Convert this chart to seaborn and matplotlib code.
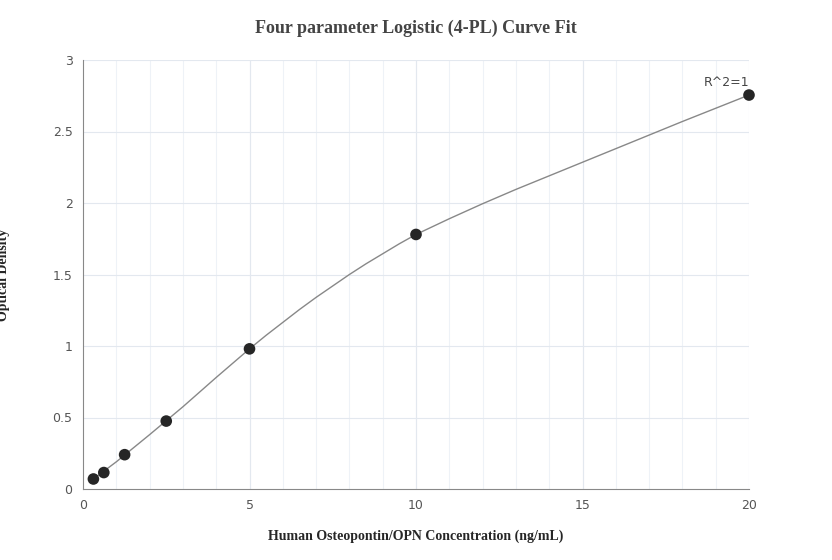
import numpy as np
import matplotlib.pyplot as plt
import seaborn as sns

# standard points
conc = [0.3125, 0.625, 1.25, 2.5, 5, 10, 20]
od = [0.07, 0.115, 0.24, 0.475, 0.98, 1.78, 2.755]

# fitted curve
curve_x = [0.3125, 1, 2, 3, 4, 5, 5.5, 6, 6.5, 7, 7.5, 8, 8.5, 9, 9.5, 10,
           11, 12, 13, 14, 16, 18, 20]
curve_y = [0.07, 0.19, 0.38, 0.575, 0.78, 0.98, 1.075, 1.165, 1.255, 1.34,
           1.42, 1.50, 1.575, 1.645, 1.715, 1.78, 1.89, 1.995, 2.095, 2.19,
           2.38, 2.57, 2.755]

x_ticks = [0, 5, 10, 15, 20]
y_ticks = [0, 0.5, 1, 1.5, 2, 2.5, 3]
y_labels = ["0", "0.5", "1", "1.5", "2", "2.5", "3"]

sns.set_style("white")
fig = plt.figure(figsize=(8.32, 5.6), dpi=100)
ax = fig.add_axes([83 / 832, 1 - 489 / 560, 666 / 832, 429 / 560])

for v in range(1, 20):
    ax.axvline(v, color="#eef2f7", linewidth=0.8, zorder=0)
for v in y_ticks[1:]:
    ax.axhline(v, color="#e3e8ef", linewidth=0.8, zorder=0)
for v in x_ticks[1:]:
    ax.axvline(v, color="#e3e8ef", linewidth=0.8, zorder=0)

sns.lineplot(x=curve_x, y=curve_y, ax=ax, color="#888888", linewidth=1.0)
sns.scatterplot(x=conc, y=od, ax=ax, color="#262626", s=70, edgecolor="none",
                zorder=3, clip_on=False)
ax.annotate("R^2=1", (conc[-1], od[-1]), xytext=(0, 4), textcoords="offset points",
            ha="right", va="bottom", fontsize=9, color="#444444")

ax.set_xlim(0, 20)
ax.set_ylim(0, 3)
ax.set_xticks(x_ticks)
ax.set_yticks(y_ticks)
ax.set_yticklabels(y_labels)
ax.tick_params(labelsize=9, colors="#555555", length=4)
for s in ["top", "right"]:
    ax.spines[s].set_visible(False)
for s in ["left", "bottom"]:
    ax.spines[s].set_color("#888888")

ax.set_xlabel("Human Osteopontin/OPN Concentration (ng/mL)", fontsize=10,
              fontweight="bold", family="Liberation Serif", labelpad=12)
ax.set_ylabel("Optical Density", fontsize=10, fontweight="bold",
              family="Liberation Serif")
ax.yaxis.set_label_coords(-0.11, 0.5)
fig.suptitle("Four parameter Logistic (4-PL) Curve Fit", x=416 / 832, y=0.965,
             fontsize=13, fontweight="bold", family="Liberation Serif",
             color="#444444")

fig.savefig("out.png", dpi=100)
